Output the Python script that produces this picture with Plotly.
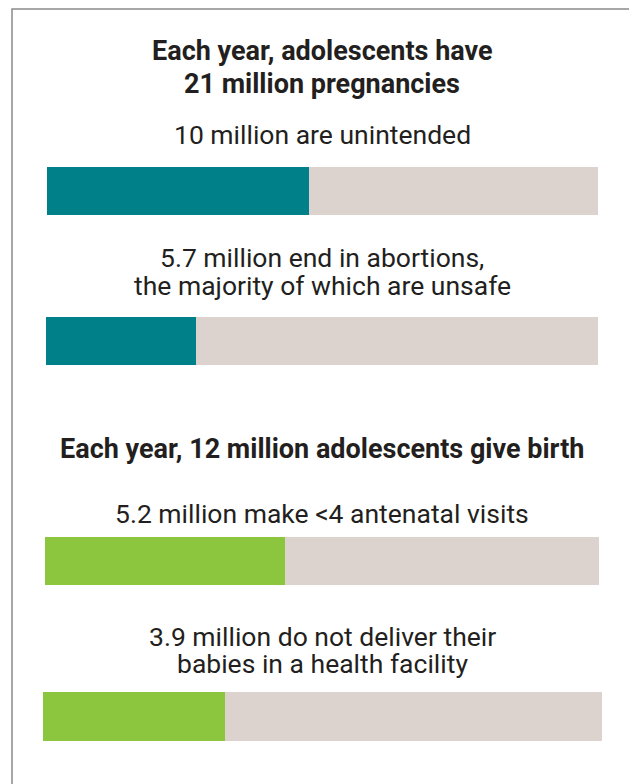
import plotly.graph_objects as go

# Page offset (browser body margin) compensation
OX, OY = 8, 8
W, H = 637 - OX, 784 - OY

# Data
headings = ["Each year, adolescents have<br>21 million pregnancies",
            "Each year, 12 million adolescents give birth"]
totals = [21, 21, 12, 12]                     # millions (base of each bar)
values = [10, 5.7, 5.2, 3.9]                  # millions
labels = ["10 million are unintended",
          "5.7 million end in abortions,<br>the majority of which are unsafe",
          "5.2 million make <4 antenatal visits",
          "3.9 million do not deliver their<br>babies in a health facility"]

colors = ["#00818A", "#00818A", "#8CC63F", "#8CC63F"]
bg = "#DDD3CE"
txt = "#231F20"

# bar pixel boxes in reference coordinates (left, right, top, bottom)
boxes = [(47, 598, 167, 215), (46, 598, 317, 365), (45, 599, 537, 585), (43, 602, 692, 741)]

def px(x):
    return (x - OX) / W

def py(y):
    return 1 - (y - OY) / H

fig = go.Figure()
for i in range(4):
    l, r, t, b = boxes[i]
    xa = "x" if i == 0 else f"x{i+1}"
    ya = "y" if i == 0 else f"y{i+1}"
    fig.add_trace(go.Bar(x=[totals[i]], y=[0], orientation="h", marker_color=bg,
                         marker_line_width=0, xaxis=xa, yaxis=ya, showlegend=False,
                         hoverinfo="skip"))
    fig.add_trace(go.Bar(x=[values[i]], y=[0], orientation="h", marker_color=colors[i],
                         marker_line_width=0, xaxis=xa, yaxis=ya, showlegend=False))
    sfx = "" if i == 0 else str(i + 1)
    fig.update_layout(**{
        f"xaxis{sfx}": dict(domain=[px(l), min(px(r), 1)], range=[0, totals[i]], visible=False,
                            anchor=ya, fixedrange=True),
        f"yaxis{sfx}": dict(domain=[py(b), py(t)], range=[-0.5, 0.5], visible=False,
                            anchor=xa, fixedrange=True),
    })

ann = []
def add(text, cx, cys, size, bold=False):
    for line, cy in zip(text.split("<br>"), cys):
        ann.append(dict(text=f"<b>{line}</b>" if bold else line, x=px(cx), y=py(cy),
                        xref="paper", yref="paper", showarrow=False, xanchor="center",
                        yanchor="middle", font=dict(family="Roboto", size=size, color=txt)))

add(headings[0], 322, [50.5, 84], 27, bold=True)
add(labels[0], 322, [134.5], 26.5)
add(labels[1], 322, [257.5, 285], 26.5)
add(headings[1], 322, [449], 27, bold=True)
add(labels[2], 322, [513], 26.5)
add(labels[3], 322, [636.5, 663.5], 26.5)

fig.update_layout(
    width=W, height=H, margin=dict(l=0, r=0, t=0, b=0),
    paper_bgcolor="white", plot_bgcolor="rgba(0,0,0,0)",
    barmode="overlay", bargap=0,
    annotations=ann,
    shapes=[dict(type="rect", xref="paper", yref="paper",
                 x0=px(12), x1=px(630), y0=-0.05, y1=py(9),
                 line=dict(color="#8A8A8A", width=1.5), fillcolor="rgba(0,0,0,0)")],
)

fig.write_html("out.html")
